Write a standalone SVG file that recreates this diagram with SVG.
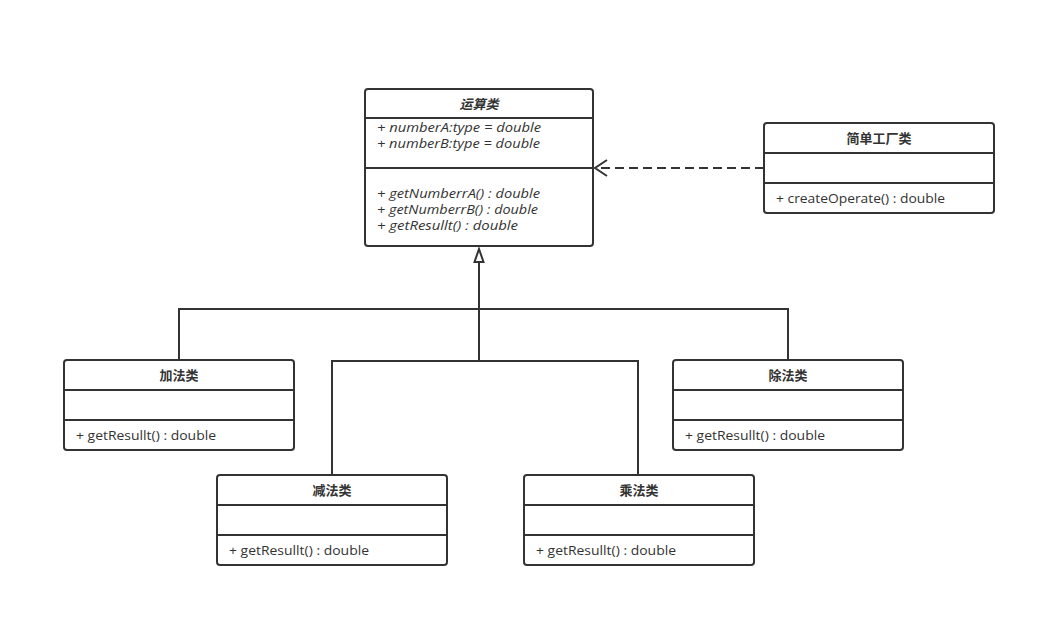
<svg xmlns="http://www.w3.org/2000/svg" width="1056" height="627" viewBox="0 0 1056 627">
<style>
.box{fill:#fff;stroke:#333;stroke-width:2}
.div{stroke:#333;stroke-width:2}
.t{font-family:"Open Sans","Noto Sans CJK SC",sans-serif;font-size:13.5px;fill:#333}
.title{font-weight:bold;text-anchor:middle;font-size:13px}
.it{font-style:italic}
.c{fill:none;stroke:#333;stroke-width:2}
</style>
<rect width="1056" height="627" fill="#fff"/>
<g id="connectors">
<path class="c" d="M764,168 L596,168" stroke-dasharray="9,5"/>
<path class="c" d="M607,160 L595,168 L607,176"/>
<path class="c" d="M479,262 L479,361"/>
<path class="c" d="M179,360 L179,309 L788,309 L788,360"/>
<path class="c" d="M332,475 L332,361 L638,361 L638,475"/>
<path d="M479,249 L474.5,262 L483.5,262 Z" fill="#fff" stroke="#333" stroke-width="2"/>
</g>
<g id="yunsuan">
<rect class="box" x="365" y="89" width="228" height="157" rx="3"/>
<line class="div" x1="365" y1="118" x2="593" y2="118"/>
<line class="div" x1="365" y1="168" x2="593" y2="168"/>
<text class="t title it" x="479" y="109">运算类</text>
<text class="t it" x="377" y="132" textLength="164" lengthAdjust="spacingAndGlyphs">+ numberA:type = double</text>
<text class="t it" x="377" y="148" textLength="163" lengthAdjust="spacingAndGlyphs">+ numberB:type = double</text>
<text class="t it" x="377" y="198" textLength="163" lengthAdjust="spacingAndGlyphs">+ getNumberrA() : double</text>
<text class="t it" x="377" y="214" textLength="161" lengthAdjust="spacingAndGlyphs">+ getNumberrB() : double</text>
<text class="t it" x="377" y="230" textLength="141" lengthAdjust="spacingAndGlyphs">+ getResullt() : double</text>
</g>
<g id="factory">
<rect class="box" x="764" y="123" width="230" height="90" rx="3"/>
<line class="div" x1="764" y1="153" x2="994" y2="153"/>
<line class="div" x1="764" y1="183" x2="994" y2="183"/>
<text class="t title" x="879" y="143">简单工厂类</text>
<text class="t" x="776" y="203" textLength="169" lengthAdjust="spacingAndGlyphs">+ createOperate() : double</text>
</g>
<g id="add">
<rect class="box" x="64" y="360" width="230" height="90" rx="3"/>
<line class="div" x1="64" y1="390" x2="294" y2="390"/>
<line class="div" x1="64" y1="420" x2="294" y2="420"/>
<text class="t title" x="179" y="380">加法类</text>
<text class="t" x="76" y="440" textLength="140" lengthAdjust="spacingAndGlyphs">+ getResullt() : double</text>
</g>
<g id="div">
<rect class="box" x="673" y="360" width="230" height="90" rx="3"/>
<line class="div" x1="673" y1="390" x2="903" y2="390"/>
<line class="div" x1="673" y1="420" x2="903" y2="420"/>
<text class="t title" x="788" y="380">除法类</text>
<text class="t" x="685" y="440" textLength="140" lengthAdjust="spacingAndGlyphs">+ getResullt() : double</text>
</g>
<g id="sub">
<rect class="box" x="217" y="475" width="230" height="90" rx="3"/>
<line class="div" x1="217" y1="505" x2="447" y2="505"/>
<line class="div" x1="217" y1="535" x2="447" y2="535"/>
<text class="t title" x="332" y="495">减法类</text>
<text class="t" x="229" y="555" textLength="140" lengthAdjust="spacingAndGlyphs">+ getResullt() : double</text>
</g>
<g id="mul">
<rect class="box" x="524" y="475" width="230" height="90" rx="3"/>
<line class="div" x1="524" y1="505" x2="754" y2="505"/>
<line class="div" x1="524" y1="535" x2="754" y2="535"/>
<text class="t title" x="639" y="495">乘法类</text>
<text class="t" x="536" y="555" textLength="140" lengthAdjust="spacingAndGlyphs">+ getResullt() : double</text>
</g>
</svg>
